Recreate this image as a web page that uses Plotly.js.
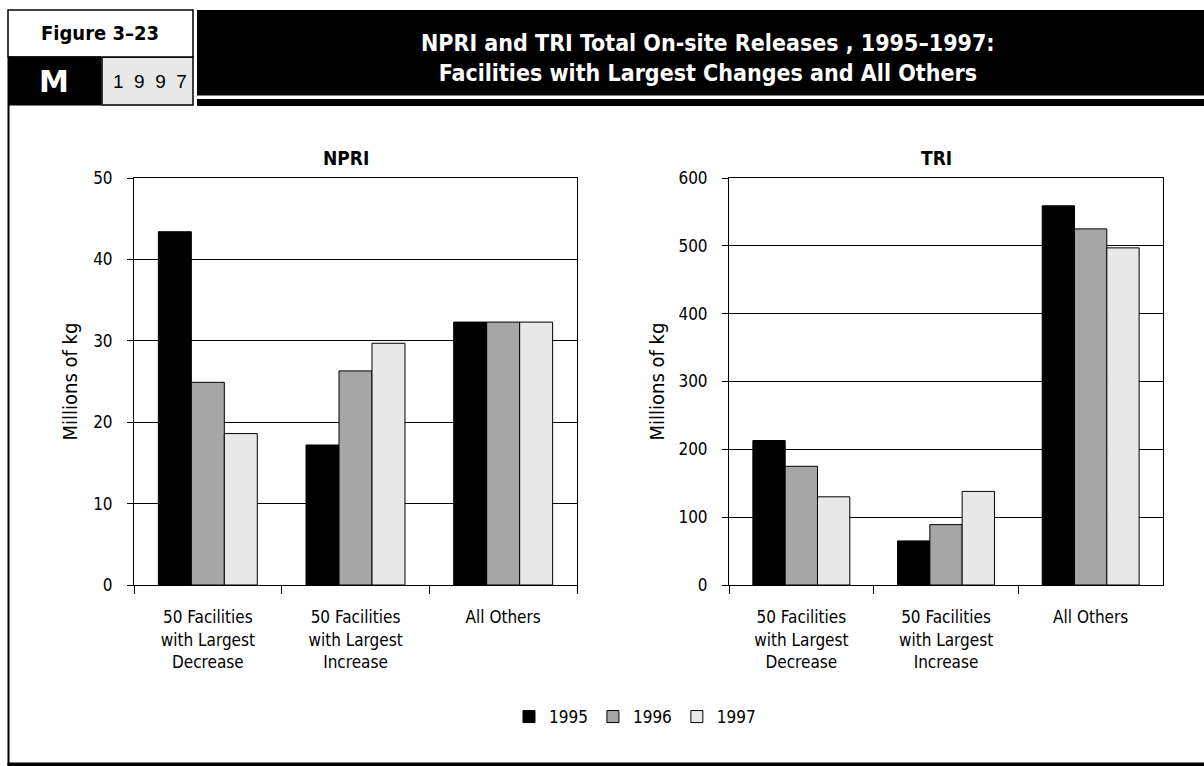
<!DOCTYPE html>
<html>
<head>
<meta charset="utf-8">
<script src="https://cdn.plot.ly/plotly-3.0.1.min.js"></script>
<style>
  html, body { margin: 0; padding: 0; background: #fff; }
  #chart { width: 1204px; height: 766px; }
</style>
</head>
<body>
<div id="chart"></div>
<script>
// ---- data ----
const categories = ['Decrease', 'Increase', 'All Others'];
const categoryLabels = ['50 Facilities<br>with Largest<br>Decrease', '50 Facilities<br>with Largest<br>Increase', 'All Others'];
const years = ['1995', '1996', '1997'];
const npri1995 = [43.4, 17.2, 32.3];
const npri1996 = [24.9, 26.3, 32.3];
const npri1997 = [18.6, 29.7, 32.3];
const tri1995 = [213, 65, 559];
const tri1996 = [175, 89, 525];
const tri1997 = [130, 138, 497];
const npriTicks = [0, 10, 20, 30, 40, 50];
const triTicks = [0, 100, 200, 300, 400, 500, 600];
const panelTitles = ['NPRI', 'TRI'];
const yTitle = 'Millions of kg';
const figureLabel = 'Figure 3–23';
const seriesLabel = 'M';
const yearLabel = '1997';
const mainTitle = 'NPRI and TRI Total On-site Releases , 1995–1997:<br>Facilities with Largest Changes and All Others';

// ---- style ----
const W = 1204, H = 766;
const FONT = '"Liberation Sans Narrow", "DejaVu Sans Condensed", sans-serif';
const fills = ['#000000', '#a6a6a6', '#e8e8e8'];
const X = p => p / W;
const Y = p => 1 - p / H;

const npriSeries = [npri1995, npri1996, npri1997];
const triSeries = [tri1995, tri1996, tri1997];

const traces = [];
years.forEach((yr, i) => {
  traces.push({
    type: 'bar', name: yr, x: categories, y: npriSeries[i],
    xaxis: 'x', yaxis: 'y', legendgroup: yr, showlegend: true,
    marker: { color: fills[i], line: { color: '#000', width: 1 } },
    hoverinfo: 'x+y+name'
  });
});
years.forEach((yr, i) => {
  traces.push({
    type: 'bar', name: yr, x: categories, y: triSeries[i],
    xaxis: 'x2', yaxis: 'y2', legendgroup: yr, showlegend: false,
    marker: { color: fills[i], line: { color: '#000', width: 1 } },
    hoverinfo: 'x+y+name'
  });
});

const xBase = {
  type: 'category', showgrid: false, zeroline: false,
  showline: true, linecolor: '#000', linewidth: 1, mirror: true,
  ticks: 'outside', tickson: 'boundaries', ticklen: 8, tickcolor: '#000', tickwidth: 1,
  tickvals: categories, ticktext: categoryLabels,
  tickfont: { family: FONT, size: 17, color: '#000' },
  ticklabelstandoff: 17,
  fixedrange: true
};
const yBase = {
  showgrid: true, gridcolor: '#000', gridwidth: 1, zeroline: false,
  showline: true, linecolor: '#000', linewidth: 1, mirror: true,
  ticks: 'outside', ticklen: 6, tickcolor: '#000', tickwidth: 1,
  tickfont: { family: FONT, size: 17, color: '#000' },
  ticklabelstandoff: 11,
  fixedrange: true
};

const layout = {
  width: W, height: H,
  margin: { l: 0, r: 0, t: 0, b: 0 },
  paper_bgcolor: '#fff', plot_bgcolor: '#fff',
  barmode: 'group', bargap: 0.33, bargroupgap: 0,
  font: { family: FONT, color: '#000' },
  xaxis: Object.assign({}, xBase, { domain: [X(134), X(577)], anchor: 'y' }),
  xaxis2: Object.assign({}, xBase, { domain: [X(729), X(1163)], anchor: 'y2' }),
  yaxis: Object.assign({}, yBase, {
    domain: [Y(585), Y(178)], anchor: 'x', range: [0, 50], tickvals: npriTicks,
    title: { text: yTitle, font: { family: FONT, size: 20, color: '#000' }, standoff: 10 }
  }),
  yaxis2: Object.assign({}, yBase, {
    domain: [Y(585), Y(178)], anchor: 'x2', range: [0, 600], tickvals: triTicks,
    title: { text: yTitle, font: { family: FONT, size: 20, color: '#000' }, standoff: 8 }
  }),
  showlegend: true,
  legend: {
    orientation: 'h', x: X(635), xanchor: 'center', y: Y(717), yanchor: 'middle',
    font: { family: FONT, size: 17, color: '#000' }, traceorder: 'normal',
    bgcolor: 'rgba(0,0,0,0)', itemclick: false, itemdoubleclick: false
  },
  shapes: [
    // Figure label box
    { type: 'rect', xref: 'paper', yref: 'paper', x0: X(8), x1: X(193), y0: Y(57), y1: Y(10),
      fillcolor: '#fff', line: { color: '#000', width: 1.5 }, layer: 'above' },
    // M box
    { type: 'rect', xref: 'paper', yref: 'paper', x0: X(8), x1: X(101), y0: Y(105), y1: Y(57),
      fillcolor: '#000', line: { color: '#000', width: 1 }, layer: 'above' },
    // year box
    { type: 'rect', xref: 'paper', yref: 'paper', x0: X(102), x1: X(193), y0: Y(105), y1: Y(57),
      fillcolor: '#e8e8e8', line: { color: '#000', width: 1.5 }, layer: 'below' },
    // title bar
    { type: 'rect', xref: 'paper', yref: 'paper', x0: X(197), x1: X(1204), y0: Y(95.5), y1: Y(10),
      fillcolor: '#000', line: { width: 0 }, layer: 'below' },
    { type: 'rect', xref: 'paper', yref: 'paper', x0: X(197), x1: X(1204), y0: Y(106), y1: Y(99),
      fillcolor: '#000', line: { width: 0 }, layer: 'below' },
    // outer frame
    { type: 'line', xref: 'paper', yref: 'paper', x0: X(8.5), x1: X(8.5), y0: Y(105), y1: Y(765),
      line: { color: '#000', width: 2 } },
    { type: 'rect', xref: 'paper', yref: 'paper', x0: X(7.5), x1: X(1204), y0: Y(766), y1: Y(762.5),
      fillcolor: '#000', line: { width: 0 } }
  ],
  annotations: [
    { xref: 'paper', yref: 'paper', x: X(100), y: Y(33), xanchor: 'center', yanchor: 'middle',
      text: '<b>' + figureLabel + '</b>', showarrow: false,
      font: { family: FONT, size: 20, color: '#000' } },
    { xref: 'paper', yref: 'paper', x: X(54), y: Y(81), xanchor: 'center', yanchor: 'middle',
      text: '<b>' + seriesLabel + '</b>', showarrow: false,
      font: { family: '"DejaVu Sans", sans-serif', size: 30, color: '#fff' } },
    { xref: 'paper', yref: 'paper', x: X(150), y: Y(81), xanchor: 'center', yanchor: 'middle',
      text: yearLabel.split('').join('&nbsp;&nbsp;'), showarrow: false,
      font: { family: '"Liberation Sans", Arial, sans-serif', size: 19, color: '#000' } },
    { xref: 'paper', yref: 'paper', x: X(708), y: Y(58), xanchor: 'center', yanchor: 'middle',
      text: '<b>' + mainTitle + '</b>', showarrow: false, align: 'center',
      font: { family: FONT, size: 23, color: '#fff' } },
    { xref: 'paper', yref: 'paper', x: X(346), y: Y(158), xanchor: 'center', yanchor: 'middle',
      text: '<b>' + panelTitles[0] + '</b>', showarrow: false,
      font: { family: FONT, size: 19, color: '#000' } },
    { xref: 'paper', yref: 'paper', x: X(936), y: Y(158), xanchor: 'center', yanchor: 'middle',
      text: '<b>' + panelTitles[1] + '</b>', showarrow: false,
      font: { family: FONT, size: 19, color: '#000' } }
  ]
};

Plotly.newPlot('chart', traces, layout, { displayModeBar: false, responsive: false });
</script>
</body>
</html>
